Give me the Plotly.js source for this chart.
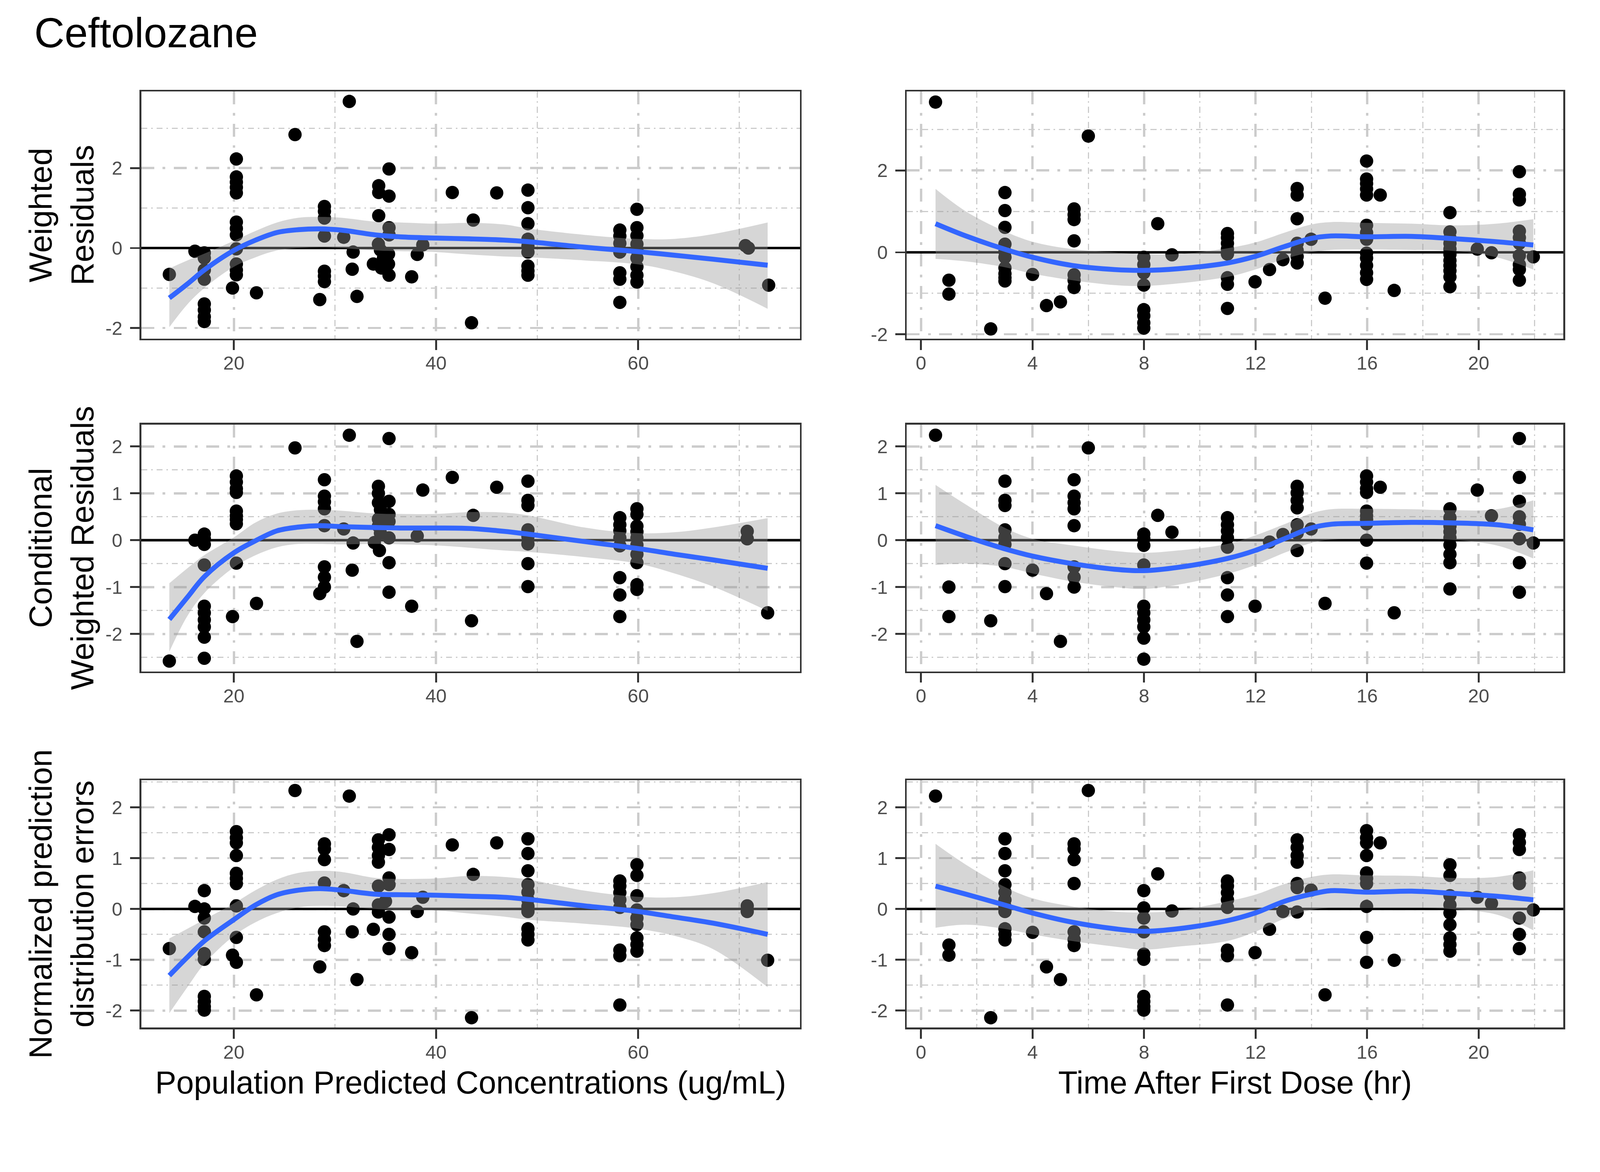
<!DOCTYPE html>
<html><head><meta charset="utf-8">
<script src="https://cdn.plot.ly/plotly-3.0.1.min.js"></script>
<style>html,body{margin:0;padding:0;background:#fff;overflow:hidden}</style>
</head><body><div id="chart"></div>
<script>
// ---------------- data ----------------
const chartTitle = 'Ceftolozane';
const xTitleLeft = 'Population Predicted Concentrations (ug/mL)';
const xTitleRight = 'Time After First Dose (hr)';
const yTitles = ['Weighted<br>Residuals', 'Conditional<br>Weighted Residuals', 'Normalized prediction<br>distribution errors'];

const predTicks = [20, 40, 60];
const predMinor = [30, 50, 70];
const timeTicks = [0, 4, 8, 12, 16, 20];
const timeMinor = [2, 6, 10, 14, 18, 22];
const row1Ticks = [-2, 0, 2];
const row1Minor = [-1, 1, 3];
const rowTicks = [-2, -1, 0, 1, 2];
const rowMinor = [-2.5, -1.5, -0.5, 0.5, 1.5, 2.5];
const referenceLineY = 0;

// Weighted residuals vs population prediction
const wresPredX = [31.42, 26.05,
  20.25,20.25,20.25,20.25,20.25,20.25,20.25,20.25,20.25,20.25,20.25,20.25, 19.87,
  16.15, 17.08,17.08,17.08,17.08,17.08,17.08,17.08,17.08,
  13.62, 22.24,
  28.96,28.96,28.96,28.96,28.96,28.96,28.96, 28.5,
  30.87, 31.8, 31.71, 32.18,
  34.33,34.33,35.35,35.35,34.33,35.35,35.35,34.3,34.5,35.3,34.8,33.8,35.3,34.6,35.35,
  37.59, 38.14, 38.69, 41.61, 43.68, 43.51, 46.0,
  49.09,49.09,49.09,49.09,49.09,49.09,49.09,49.09,49.09,
  58.18,58.18,58.18,58.18,58.18,58.18,58.18,
  59.87,59.87,59.87,59.87,59.87,59.87,59.87,59.87,59.87,
  70.6, 70.9, 72.9];
const wresPredY = [3.67, 2.84,
  2.23,1.78,1.65,1.52,1.38,0.65,0.49,0.33,-0.02,-0.40,-0.55,-0.67, -1.0,
  -0.08, -0.12,-0.25,-0.55,-0.78,-1.40,-1.55,-1.72,-1.84,
  -0.66, -1.12,
  1.04,0.92,0.75,0.30,-0.58,-0.70,-0.84, -1.29,
  0.27, -0.10, -0.53, -1.21,
  1.56,1.39,1.30,1.98,0.81,0.51,0.33,0.10,-0.05,-0.15,-0.25,-0.40,-0.40,-0.50,-0.68,
  -0.72,-0.16,0.08,1.39,0.70,-1.87,1.38,
  1.45,1.01,0.61,0.22,0.05,-0.10,-0.45,-0.57,-0.68,
  0.45,0.30,0.12,-0.10,-0.62,-0.78,-1.36,
  0.97,0.51,0.31,0.10,-0.05,-0.25,-0.47,-0.68,-0.85,
  0.06,0.0,-0.93];

// Weighted residuals vs time
const wresTimeX = [0.52, 6.0, 1.0, 1.0, 2.5,
  3.01,3.01,3.01,3.01,3.01,3.01,3.01,3.01,3.01,3.01,
  4.0, 4.5, 5.0,
  5.49,5.49,5.49,5.49,5.49,5.49,5.49,
  8.49,
  7.99,7.99,7.99,7.99,7.99,7.99,7.99,7.99,
  9.0,
  10.99,10.99,10.99,10.99,10.99,10.99,10.99,10.99,
  11.98, 12.5, 12.98,
  13.49,13.49,13.49,13.49,13.49,13.49,13.49,
  13.99, 14.49,
  15.98,15.98,15.98,15.98,15.98,15.98,15.98,15.98,15.98,15.98,15.98,15.98,15.98,
  16.47, 16.97,
  18.97,18.97,18.97,18.97,18.97,18.97,18.97,18.97,18.97,18.97,18.97,
  19.95, 20.46,
  21.46,21.46,21.46,21.46,21.46,21.46,21.46,21.46,21.46,21.46,
  21.96];
const wresTimeY = [3.67, 2.84, -0.68, -1.02, -1.87,
  1.46,1.02,0.61,0.20,0.02,-0.12,-0.38,-0.52,-0.62,-0.70,
  -0.54,-1.30,-1.21,
  1.06,0.92,0.80,0.28,-0.55,-0.68,-0.86,
  0.70,
  -0.12,-0.30,-0.50,-0.80,-1.40,-1.55,-1.72,-1.85,
  -0.06,
  0.46,0.36,0.22,0.08,-0.04,-0.62,-0.78,-1.37,
  -0.72,-0.42,-0.18,
  1.56,1.40,0.82,0.22,0.05,-0.10,-0.26,
  0.32,-1.12,
  2.23,1.79,1.68,1.55,1.40,0.66,0.48,0.32,-0.02,-0.14,-0.32,-0.50,-0.66,
  1.40,-0.93,
  0.97,0.50,0.35,0.22,0.08,-0.05,-0.20,-0.32,-0.45,-0.60,-0.84,
  0.08,-0.01,
  1.97,1.42,1.28,0.52,0.36,0.22,-0.08,-0.30,-0.42,-0.68,
  -0.11];

// Conditional weighted residuals vs population prediction
const cwresPredX = [31.42, 35.35, 26.05, 13.62,
  16.15, 17.08,17.08,17.08,17.08,17.08,17.08,17.08,17.08,17.08,17.08,
  20.25,20.25,20.25,20.25,20.25,20.25,20.25,20.25,20.25, 19.87, 22.24,
  28.96,28.96,28.96,28.96,28.96,28.96,28.96,28.96, 28.5,
  30.87, 31.8, 31.71, 32.18,
  34.3,34.3,34.3,35.35,34.5,35.35,34.3,35.35,34.3,34.5,35.35,33.9,34.4,35.35,35.35,
  37.59,38.14,38.69,41.61,43.68,43.51,46.0,
  49.09,49.09,49.09,49.09,49.09,49.09,49.09,49.09,
  58.18,58.18,58.18,58.18,58.18,58.18,58.18,58.18,
  59.87,59.87,59.87,59.87,59.87,59.87,59.87,59.87,59.87,59.87,
  70.78, 70.78, 72.8];
const cwresPredY = [2.24, 2.17, 1.97, -2.58,
  0.0, 0.13,0.03,-0.09,-0.53,-1.41,-1.55,-1.70,-1.85,-2.07,-2.52,
  1.37,1.24,1.10,1.02,0.62,0.52,0.44,0.35,-0.49, -1.63, -1.35,
  1.29,0.94,0.82,0.67,0.31,-0.57,-0.79,-1.00, -1.14,
  0.24,-0.06,-0.64,-2.16,
  1.15,1.0,0.80,0.83,0.65,0.55,0.45,0.40,0.30,0.15,0.05,-0.05,-0.22,-0.48,-1.11,
  -1.41,0.09,1.07,1.34,0.53,-1.72,1.13,
  1.26,0.85,0.74,0.22,0.08,-0.08,-0.50,-0.99,
  0.48,0.33,0.20,0.05,-0.12,-0.80,-1.17,-1.63,
  0.67,0.55,0.30,0.18,0.05,-0.10,-0.30,-0.48,-0.95,-1.05,
  0.19,0.03,-1.55];

// Conditional weighted residuals vs time
const cwresTimeX = [0.52, 6.0, 21.46, 1.0, 1.0, 2.5,
  3.01,3.01,3.01,3.01,3.01,3.01,3.01,3.01,
  4.0, 4.5, 5.0,
  5.49,5.49,5.49,5.49,5.49,5.49,5.49,5.49,
  8.49,
  7.99,7.99,7.99,7.99,7.99,7.99,7.99,7.99,7.99,7.99,
  9.0,
  10.99,10.99,10.99,10.99,10.99,10.99,10.99,10.99,
  11.98, 12.5, 12.98,
  13.49,13.49,13.49,13.49,13.49,13.49,13.49,
  13.99, 14.49,
  15.98,15.98,15.98,15.98,15.98,15.98,15.98,15.98,15.98,15.98,
  16.47, 16.97,
  18.97,18.97,18.97,18.97,18.97,18.97,18.97,18.97,18.97,
  19.95, 20.46,
  21.46,21.46,21.46,21.46,21.46,21.46,21.46,
  21.96];
const cwresTimeY = [2.24, 1.97, 2.17, -1.0, -1.63, -1.72,
  1.26,0.85,0.74,0.22,0.06,-0.09,-0.50,-0.99,
  -0.64,-1.14,-2.16,
  1.29,0.94,0.80,0.67,0.31,-0.57,-0.79,-1.00,
  0.53,
  0.13,0.03,-0.11,-0.53,-1.41,-1.55,-1.70,-1.85,-2.09,-2.54,
  0.17,
  0.48,0.33,0.20,0.05,-0.15,-0.80,-1.17,-1.63,
  -1.41,-0.04,0.12,
  1.15,1.01,0.85,0.69,0.33,0.15,-0.22,
  0.24,-1.35,
  1.37,1.24,1.10,1.02,0.62,0.52,0.44,0.35,0.0,-0.49,
  1.13,-1.55,
  0.67,0.48,0.30,0.18,0.05,-0.10,-0.30,-0.48,-1.04,
  1.07,0.52,
  1.34,0.83,0.50,0.34,0.03,-0.48,-1.11,
  -0.06];

// Normalized prediction distribution errors vs population prediction
const npdePredX = [26.05, 31.42, 43.51, 58.18, 13.62,
  16.15, 17.08,17.08,17.08,17.08,17.08,17.08,17.08,17.08,17.08,17.08,
  20.25,20.25,20.25,20.25,20.25,20.25,20.25,20.25,20.25,20.25, 19.87,
  22.24,
  28.96,28.96,28.96,28.96,28.96,28.96,28.96, 28.5,
  30.87, 31.8, 31.71, 32.18,
  35.35,34.3,34.3,35.35,34.3,34.3,35.35,35.35,34.3,35.0,34.3,34.3,35.35,33.8,35.35,35.35,
  37.59,38.14,38.69,41.61,43.68,46.0,
  49.09,49.09,49.09,49.09,49.09,49.09,49.09,49.09,49.09,49.09,49.09,
  58.18,58.18,58.18,58.18,58.18,58.18,58.18,
  59.87,59.87,59.87,59.87,59.87,59.87,59.87,59.87,59.87,
  70.78, 70.78, 72.8];
const npdePredY = [2.33, 2.22, -2.14, -1.89, -0.78,
  0.05, 0.36,0.0,-0.18,-0.45,-0.88,-0.99,-1.72,-1.82,-1.92,-1.99,
  1.52,1.40,1.30,1.05,0.70,0.60,0.50,0.06,-0.56,-1.05, -0.91,
  -1.69,
  1.28,1.18,0.97,0.51,-0.45,-0.60,-0.72, -1.14,
  0.36,0.0,-0.45,-1.39,
  1.46,1.36,1.21,1.17,1.05,0.92,0.61,0.48,0.45,0.15,0.08,-0.06,-0.16,-0.40,-0.50,-0.78,
  -0.86,-0.05,0.23,1.26,0.68,1.30,
  1.38,1.09,0.75,0.48,0.33,0.18,0.05,-0.05,-0.39,-0.50,-0.61,
  0.55,0.45,0.32,0.18,0.03,-0.81,-0.92,
  0.87,0.66,0.26,-0.02,-0.18,-0.31,-0.57,-0.70,-0.83,
  0.06,-0.05,-1.01];

// Normalized prediction distribution errors vs time
const npdeTimeX = [0.52, 6.0, 2.5, 1.0, 1.0,
  3.01,3.01,3.01,3.01,3.01,3.01,3.01,3.01,3.01,3.01,3.01,
  4.0, 4.5, 5.0,
  5.49,5.49,5.49,5.49,5.49,5.49,5.49,
  8.49,
  7.99,7.99,7.99,7.99,7.99,7.99,7.99,7.99,7.99,7.99,
  9.0,
  10.99,10.99,10.99,10.99,10.99,10.99,10.99,10.99,
  11.98, 12.5, 12.98,
  13.49,13.49,13.49,13.49,13.49,13.49,13.49,
  13.99, 14.49,
  15.98,15.98,15.98,15.98,15.98,15.98,15.98,15.98,15.98,15.98,
  16.47, 16.97,
  18.97,18.97,18.97,18.97,18.97,18.97,18.97,18.97,18.97,
  19.95, 20.46,
  21.46,21.46,21.46,21.46,21.46,21.46,21.46,21.46,
  21.96];
const npdeTimeY = [2.22, 2.33, -2.14, -0.71, -0.91,
  1.38,1.09,0.75,0.48,0.33,0.18,0.05,-0.05,-0.39,-0.50,-0.61,
  -0.46,-1.14,-1.39,
  1.28,1.18,0.97,0.50,-0.45,-0.60,-0.72,
  0.69,
  0.36,0.02,-0.18,-0.45,-0.89,-0.99,-1.72,-1.82,-1.92,-1.99,
  -0.04,
  0.55,0.45,0.32,0.18,0.03,-0.81,-0.92,-1.89,
  -0.86,-0.40,-0.05,
  1.36,1.21,1.05,0.92,0.50,0.42,-0.06,
  0.37,-1.69,
  1.54,1.40,1.30,1.05,0.71,0.60,0.50,0.05,-0.56,-1.05,
  1.30,-1.01,
  0.87,0.66,0.26,0.08,-0.08,-0.31,-0.57,-0.70,-0.83,
  0.23,0.11,
  1.46,1.31,1.17,0.61,0.50,-0.18,-0.50,-0.78,
  -0.02];

// loess fits with 95% bands
const predGrid = [13.62, 15.4, 17.08, 20, 22.16, 24.27, 26.4, 28.5, 30.6, 34.0, 36.5, 40, 43.3, 46.7, 49.09, 54.7, 60, 63.6, 67.4, 72.8];
const wresPredFit = [-1.25,-0.90,-0.55,-0.06,0.20,0.39,0.46,0.48,0.45,0.33,0.28,0.25,0.23,0.20,0.16,0.02,-0.09,-0.18,-0.28,-0.43];
const wresPredHi  = [-0.51,-0.31,-0.14,0.18,0.43,0.64,0.76,0.78,0.76,0.66,0.64,0.61,0.63,0.59,0.49,0.33,0.23,0.23,0.35,0.64];
const wresPredLo  = [-1.98,-1.41,-1.00,-0.47,-0.23,-0.06,0.0,0.02,0.0,-0.06,-0.08,-0.10,-0.16,-0.21,-0.23,-0.31,-0.41,-0.59,-0.88,-1.52];
const cwresPredFit = [-1.69,-1.22,-0.78,-0.27,-0.01,0.20,0.28,0.31,0.29,0.27,0.26,0.26,0.25,0.19,0.13,-0.03,-0.18,-0.30,-0.42,-0.60];
const cwresPredHi  = [-0.92,-0.60,-0.32,0.06,0.38,0.57,0.64,0.65,0.63,0.57,0.56,0.56,0.60,0.59,0.53,0.27,0.15,0.17,0.27,0.47];
const cwresPredLo  = [-2.38,-1.62,-1.13,-0.58,-0.32,-0.15,-0.08,-0.08,-0.09,-0.08,-0.09,-0.11,-0.16,-0.22,-0.25,-0.36,-0.50,-0.71,-0.99,-1.51];
const npdePredFit = [-1.31,-0.95,-0.63,-0.21,0.08,0.28,0.37,0.40,0.37,0.29,0.28,0.27,0.25,0.23,0.19,0.06,-0.05,-0.16,-0.28,-0.50];
const npdePredHi  = [-0.58,-0.39,-0.21,0.11,0.37,0.58,0.71,0.75,0.73,0.61,0.59,0.60,0.65,0.63,0.58,0.36,0.24,0.23,0.31,0.53];
const npdePredLo  = [-2.05,-1.54,-1.08,-0.53,-0.26,-0.08,0.03,0.06,0.05,0.0,-0.02,-0.03,-0.09,-0.15,-0.21,-0.29,-0.39,-0.53,-0.79,-1.54];

const timeGrid = [0.52, 1.61, 2.98, 4.0, 5.42, 6.94, 7.99, 9.22, 10.99, 11.98, 13.03, 13.99, 14.7, 15.98, 17.6, 18.97, 20.64, 21.96];
const wresTimeFit = [0.70,0.40,0.08,-0.12,-0.32,-0.42,-0.44,-0.40,-0.26,-0.10,0.14,0.34,0.40,0.38,0.39,0.34,0.26,0.18];
const wresTimeHi  = [1.55,1.0,0.52,0.26,0.08,0.0,-0.04,-0.04,0.10,0.24,0.48,0.68,0.74,0.72,0.70,0.66,0.70,0.81];
const wresTimeLo  = [-0.16,-0.22,-0.36,-0.52,-0.68,-0.80,-0.82,-0.76,-0.60,-0.42,-0.16,0.0,0.06,0.07,0.06,0.04,-0.12,-0.42];
const cwresTimeFit = [0.31,0.08,-0.18,-0.34,-0.50,-0.62,-0.65,-0.58,-0.39,-0.22,0.03,0.26,0.34,0.36,0.38,0.37,0.33,0.22];
const cwresTimeHi  = [1.18,0.76,0.27,0.03,-0.11,-0.23,-0.27,-0.22,-0.08,0.10,0.34,0.57,0.66,0.67,0.66,0.64,0.66,0.85];
const cwresTimeLo  = [-0.53,-0.50,-0.57,-0.71,-0.88,-1.00,-1.04,-0.95,-0.72,-0.53,-0.27,-0.06,0.01,0.03,0.03,0.01,-0.11,-0.39];
const npdeTimeFit = [0.45,0.29,0.08,-0.08,-0.26,-0.39,-0.44,-0.39,-0.23,-0.08,0.15,0.29,0.36,0.33,0.35,0.31,0.25,0.18];
const npdeTimeHi  = [1.28,0.87,0.44,0.21,0.05,-0.05,-0.07,-0.03,0.15,0.28,0.49,0.63,0.68,0.66,0.65,0.61,0.63,0.76];
const npdeTimeLo  = [-0.37,-0.31,-0.39,-0.50,-0.63,-0.74,-0.80,-0.74,-0.63,-0.45,-0.19,-0.02,0.02,0.02,0.02,0.0,-0.11,-0.42];

// ---------------- drawing ----------------
const FONT = '"Liberation Sans", Arial, Helvetica, sans-serif';
const REFW = 4200, REFH = 3000;
const VW = window.innerWidth || REFW, VH = window.innerHeight || REFH;
const S = Math.min(VW / REFW, VH / REFH);   // scale all pixel sizes to the real viewport
const W = REFW * S, H = REFH * S;
const px = v => v * S;
document.getElementById('chart').style.width = W + 'px';
document.getElementById('chart').style.height = H + 'px';

const colDom = [[371 / REFW, 2100 / REFW], [2380 / REFW, 4104 / REFW]];
const rowDom = [[1 - 889 / REFH, 1 - 240 / REFH], [1 - 1762 / REFH, 1 - 1114 / REFH], [1 - 2697 / REFH, 1 - 2048 / REFH]];
const xRanges = [[10.85, 76.0], [-0.515, 23.04]];
const yRanges = [[[-2.27, 3.92], [-2.11, 3.93]], [[-2.80, 2.47], [-2.80, 2.47]], [[-2.335, 2.53], [-2.335, 2.53]]];

const panels = [
  {x: wresPredX, y: wresPredY, g: predGrid, f: wresPredFit, hi: wresPredHi, lo: wresPredLo},
  {x: wresTimeX, y: wresTimeY, g: timeGrid, f: wresTimeFit, hi: wresTimeHi, lo: wresTimeLo},
  {x: cwresPredX, y: cwresPredY, g: predGrid, f: cwresPredFit, hi: cwresPredHi, lo: cwresPredLo},
  {x: cwresTimeX, y: cwresTimeY, g: timeGrid, f: cwresTimeFit, hi: cwresTimeHi, lo: cwresTimeLo},
  {x: npdePredX, y: npdePredY, g: predGrid, f: npdePredFit, hi: npdePredHi, lo: npdePredLo},
  {x: npdeTimeX, y: npdeTimeY, g: timeGrid, f: npdeTimeFit, hi: npdeTimeHi, lo: npdeTimeLo}
];

const GRID = '#CCCCCC';
const dash = arr => arr.map(v => px(v).toFixed(2) + 'px').join(',');
function baseAxis(extra) {
  return Object.assign({
    showline: true, mirror: true, linecolor: '#333333', linewidth: px(4.5),
    ticks: 'outside', ticklen: px(25), tickwidth: px(5), tickcolor: '#333333',
    tickfont: {family: FONT, size: px(50), color: '#4D4D4D'},
    showgrid: true, gridcolor: GRID, gridwidth: px(6), griddash: dash([34, 22, 7, 22]),
    zeroline: false, automargin: false, fixedrange: true, tickmode: 'array'
  }, extra);
}
function minorOf(vals) {
  return {tickmode: 'array', tickvals: vals, ticks: '', showgrid: true, gridcolor: GRID,
          gridwidth: px(3), griddash: dash([16, 10, 4, 10])};
}

const traces = [];
const layout = {
  width: W, height: H, paper_bgcolor: '#FFFFFF', plot_bgcolor: '#FFFFFF',
  margin: {l: 0, r: 0, t: 0, b: 0, pad: 0}, showlegend: false,
  font: {family: FONT},
  title: {text: chartTitle, font: {family: FONT, size: px(110), color: '#000000'},
          xref: 'paper', x: 90 / REFW, xanchor: 'left', yref: 'container', y: 1 - 86 / REFH, yanchor: 'middle'}
};

panels.forEach((p, i) => {
  const row = Math.floor(i / 2), col = i % 2;
  const sfx = i === 0 ? '' : String(i + 1);
  const xa = 'x' + sfx, ya = 'y' + sfx;
  const xKey = 'xaxis' + sfx, yKey = 'yaxis' + sfx;
  const xTicks = col === 0 ? predTicks : timeTicks;
  const xMinor = col === 0 ? predMinor : timeMinor;
  const yTicks = row === 0 ? row1Ticks : rowTicks;
  const yMinor = row === 0 ? row1Minor : rowMinor;
  layout[xKey] = baseAxis({
    domain: colDom[col], range: xRanges[col], anchor: ya,
    tickvals: xTicks, ticktext: xTicks.map(String), minor: minorOf(xMinor), ticklabelstandoff: Math.round(px(-8))
  });
  layout[yKey] = baseAxis({
    domain: rowDom[row], range: yRanges[row][col], anchor: xa,
    tickvals: yTicks, ticktext: yTicks.map(String), minor: minorOf(yMinor), ticklabelstandoff: Math.round(px(10))
  });
  if (row === 2) {
    layout[xKey].title = {text: col === 0 ? xTitleLeft : xTitleRight,
      font: {family: FONT, size: px(83), color: '#000000'}, standoff: px(25)};
  }
  if (col === 0) {
    layout[yKey].title = {text: yTitles[row], font: {family: FONT, size: px(84), color: '#000000'}, standoff: px(5)};
  }
  // points
  traces.push({type: 'scatter', mode: 'markers', x: p.x, y: p.y, xaxis: xa, yaxis: ya,
    marker: {color: '#000000', size: px(35), line: {width: 0}}, hoverinfo: 'skip'});
  // horizontal reference line at zero, spanning the axis range
  traces.push({type: 'scatter', mode: 'lines', x: xRanges[col], y: [referenceLineY, referenceLineY],
    xaxis: xa, yaxis: ya, line: {color: '#000000', width: px(6.5)}, hoverinfo: 'skip'});
  // confidence band
  traces.push({type: 'scatter', mode: 'lines', x: p.g, y: p.lo, xaxis: xa, yaxis: ya,
    line: {width: 0, shape: 'spline', color: 'rgba(0,0,0,0)'}, hoverinfo: 'skip'});
  traces.push({type: 'scatter', mode: 'lines', x: p.g, y: p.hi, xaxis: xa, yaxis: ya,
    line: {width: 0, shape: 'spline', color: 'rgba(0,0,0,0)'}, fill: 'tonexty',
    fillcolor: 'rgba(153,153,153,0.4)', hoverinfo: 'skip'});
  // smooth line
  traces.push({type: 'scatter', mode: 'lines', x: p.g, y: p.f, xaxis: xa, yaxis: ya,
    line: {width: px(13), shape: 'spline', color: '#3366FF'}, hoverinfo: 'skip'});
});

Plotly.newPlot('chart', traces, layout, {staticPlot: true, displayModeBar: false});
</script></body></html>
